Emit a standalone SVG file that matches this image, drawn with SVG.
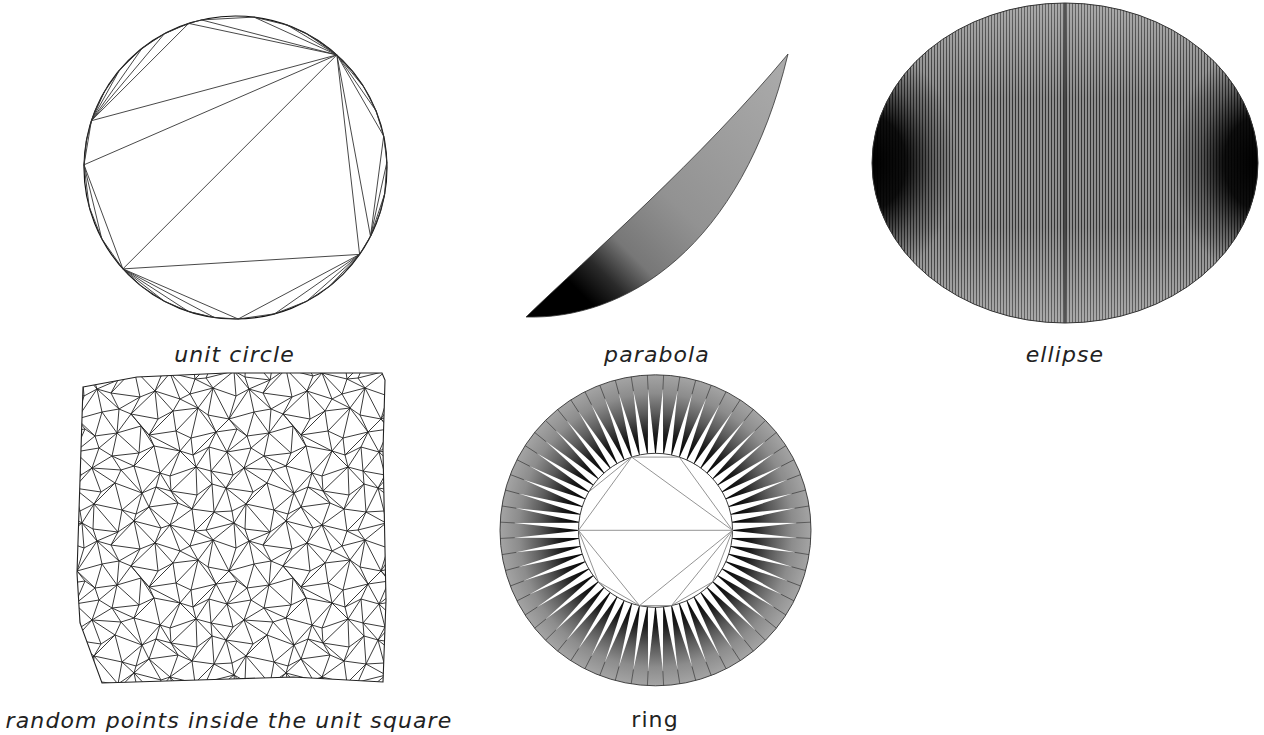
<svg xmlns="http://www.w3.org/2000/svg" xmlns:xlink="http://www.w3.org/1999/xlink" width="1264" height="735" viewBox="0 0 1264 735">
<style>
.cap{font-family:"DejaVu Sans","Liberation Sans",sans-serif;font-size:22px;fill:#222;letter-spacing:1.1px;text-anchor:middle}
.it{font-style:italic}
.edge{fill:none;stroke:#333;stroke-width:0.9}
.inner{fill:none;stroke:#888;stroke-width:0.9}
</style>
<defs>
<path id="mp" d="M3,-4L14,2 39,5 55,-6 82,1 91,-2 116,4 127,3 155,-4M5,21L18,14 32,18 61,22 76,16 101,24 111,19 134,13 157,21M-2,44L23,37 40,34 52,39 79,44 94,36 119,33 129,40 150,44M6,54L16,61 38,58 62,51 70,60 97,56 112,63 137,57 158,54M-4,77L20,73 33,81 60,78 75,71 101,76 114,80 130,72 148,77M2,100L13,93 42,95 55,91 81,98 91,101 117,92 132,96 154,100M-5,113L22,117 36,108 63,118 77,112 92,116 118,120 133,109 147,113M1,136L15,129 43,135 57,139 70,132 99,128 113,134 135,137 153,136M3,-4L5,21 -2,44 6,54 -4,77 2,100 -5,113 1,136 3,148M14,2L18,14 23,37 16,61 20,73 13,93 22,117 15,129 14,154M39,5L32,18 40,34 38,58 33,81 42,95 36,108 43,135 39,157M55,-6L61,22 52,39 62,51 60,78 55,91 63,118 57,139 55,146M82,1L76,16 79,44 70,60 75,71 81,98 77,112 70,132 82,153M91,-2L101,24 94,36 97,56 101,76 91,101 92,116 99,128 91,150M116,4L111,19 119,33 112,63 114,80 117,92 118,120 113,134 116,156M127,3L134,13 129,40 137,57 130,72 132,96 133,109 135,137 127,155M3,-4L18,14M39,5L18,14M55,-6L32,18M55,-6L76,16M91,-2L76,16M91,-2L111,19M116,4L134,13M155,-4L134,13M18,14L-2,44M18,14L40,34M61,22L40,34M76,16L52,39M76,16L94,36M101,24L119,33M134,13L119,33M134,13L150,44M-2,44L16,61M23,37L38,58M52,39L38,58M52,39L70,60M94,36L70,60M119,33L97,56M119,33L137,57M150,44L137,57M16,61L-4,77M38,58L20,73M38,58L60,78M62,51L75,71M70,60L101,76M112,63L101,76M137,57L114,80M137,57L148,77M-4,77L13,93M33,81L13,93M33,81L55,91M75,71L55,91M101,76L81,98M101,76L117,92M130,72L117,92M148,77L132,96M13,93L-5,113M13,93L36,108M42,95L63,118M81,98L63,118M81,98L92,116M117,92L92,116M117,92L133,109M132,96L147,113M-5,113L15,129M36,108L15,129M63,118L43,135M63,118L70,132M77,112L99,128M92,116L113,134M133,109L113,134M147,113L135,137M15,129L3,148M15,129L39,157M43,135L55,146M70,132L55,146M70,132L91,150M113,134L91,150M135,137L116,156M135,137L155,148"/>
<pattern id="mesh" x="79" y="375" width="152" height="152" patternUnits="userSpaceOnUse">
<g fill="none" stroke="#222" stroke-width="0.9">
<use href="#mp"/><use href="#mp" x="-152"/><use href="#mp" x="152"/>
<use href="#mp" y="-152"/><use href="#mp" x="-152" y="-152"/><use href="#mp" x="152" y="-152"/>
<use href="#mp" y="152"/><use href="#mp" x="-152" y="152"/><use href="#mp" x="152" y="152"/>
</g>
</pattern>
<pattern id="vstripe" x="0" y="0" width="3" height="10" patternUnits="userSpaceOnUse">
<rect x="0.8" y="0" width="1.4" height="10" fill="#333"/>
</pattern>
<radialGradient id="side">
<stop offset="0" stop-color="#000" stop-opacity="1"/>
<stop offset="0.4" stop-color="#000" stop-opacity="0.9"/>
<stop offset="0.7" stop-color="#000" stop-opacity="0.35"/>
<stop offset="1" stop-color="#000" stop-opacity="0"/>
</radialGradient>
<linearGradient id="vband" x1="0" y1="3" x2="0" y2="323" gradientUnits="userSpaceOnUse">
<stop offset="0" stop-color="#fff" stop-opacity="0.25"/>
<stop offset="0.3" stop-color="#fff" stop-opacity="0"/>
<stop offset="0.7" stop-color="#fff" stop-opacity="0"/>
<stop offset="1" stop-color="#fff" stop-opacity="0.25"/>
</linearGradient>
<clipPath id="ellClip"><ellipse cx="1065" cy="163" rx="193" ry="160"/></clipPath>
<linearGradient id="parG" x1="526" y1="317" x2="788" y2="54" gradientUnits="userSpaceOnUse">
<stop offset="0" stop-color="#000"/>
<stop offset="0.15" stop-color="#000"/>
<stop offset="0.23" stop-color="#2a2a2a"/>
<stop offset="0.32" stop-color="#777"/>
<stop offset="0.5" stop-color="#929292"/>
<stop offset="1" stop-color="#acacac"/>
</linearGradient>
<radialGradient id="ringG" cx="655.5" cy="530.3" r="155.5" gradientUnits="userSpaceOnUse">
<stop offset="0.495" stop-color="#000"/>
<stop offset="0.62" stop-color="#1c1c1c"/>
<stop offset="0.75" stop-color="#5a5a5a"/>
<stop offset="0.88" stop-color="#8c8c8c"/>
<stop offset="1" stop-color="#a4a4a4"/>
</radialGradient>
<g id="spk">
<polygon points="-3.63,-76.91 3.63,-76.91 0,-141" fill="#fff"/>
<line x1="0" y1="-141" x2="0" y2="-155.5" stroke="#333" stroke-width="0.6"/>
</g>
<g id="spk5">
<use href="#spk"/><use href="#spk" transform="rotate(6)"/><use href="#spk" transform="rotate(12)"/><use href="#spk" transform="rotate(18)"/><use href="#spk" transform="rotate(24)"/>
</g>
<g id="spk15">
<use href="#spk5"/><use href="#spk5" transform="rotate(30)"/><use href="#spk5" transform="rotate(60)"/>
</g>
</defs>
<rect width="1264" height="735" fill="#fff"/>

<g id="unit-circle">
<circle cx="235.5" cy="167.5" r="151.5" fill="none" stroke="#111" stroke-width="1.2"/>
<polygon class="edge" points="336.9,54.9 322.4,43.4 306.6,33.7 287.3,25.1 254.0,17.1 201.4,19.9 188.7,23.4 164.4,33.7 142.2,48.1 119.5,70.1 104.3,91.8 97.1,105.9 91.4,120.7 86.3,141.2 84.0,164.8 89.2,206.7 101.7,238.6 122.9,268.9 142.2,286.9 164.4,301.3 188.7,311.6 214.4,317.5 238.2,319.0 274.7,313.8 306.6,301.3 328.8,286.9 344.5,272.7 359.6,254.4 370.5,236.3 379.6,214.3 384.7,193.8 386.9,162.2 383.7,136.0 376.0,110.7 364.0,87.2 351.5,70.1"/>
<path class="edge" d="M336.9,54.9L91.4,120.7M336.9,54.9L84.0,164.8M336.9,54.9L122.9,268.9M336.9,54.9L359.6,254.4M122.9,268.9L359.6,254.4M122.9,268.9L238.2,319.0M238.2,319.0L359.6,254.4M91.4,120.7L84.0,164.8M84.0,164.8L122.9,268.9M84.0,164.8L101.7,238.6M336.9,54.9L306.6,33.7M336.9,54.9L287.3,25.1M336.9,54.9L254.0,17.1M336.9,54.9L201.4,19.9M336.9,54.9L188.7,23.4M91.4,120.7L188.7,23.4M91.4,120.7L164.4,33.7M91.4,120.7L142.2,48.1M91.4,120.7L119.5,70.1M91.4,120.7L104.3,91.8M336.9,54.9L370.5,236.3M336.9,54.9L383.7,136.0M336.9,54.9L376.0,110.7M336.9,54.9L364.0,87.2M370.5,236.3L383.7,136.0M370.5,236.3L386.9,162.2M370.5,236.3L384.7,193.8M122.9,268.9L164.4,301.3M122.9,268.9L188.7,311.6M122.9,268.9L214.4,317.5M359.6,254.4L274.7,313.8M359.6,254.4L306.6,301.3M359.6,254.4L328.8,286.9"/>
<text class="cap it" x="234.5" y="362">unit circle</text>
</g>

<g id="parabola">
<path d="M526,317 C590,255 700,160 788,54 C742,248 625,320 526,317 Z" fill="url(#parG)" stroke="#333" stroke-width="0.8"/>
<text class="cap it" x="657" y="362">parabola</text>
</g>

<g id="ellipse">
<ellipse cx="1065" cy="163" rx="193" ry="160" fill="#a2a2a2"/>
<g clip-path="url(#ellClip)">
<rect x="870" y="0" width="392" height="330" fill="url(#vstripe)"/>
<rect x="870" y="0" width="392" height="330" fill="url(#vband)"/>
<ellipse cx="872" cy="163" rx="85" ry="115" fill="url(#side)"/>
<ellipse cx="1258" cy="163" rx="85" ry="115" fill="url(#side)"/>
</g>
<line x1="1065" y1="3" x2="1065" y2="323" stroke="#000" stroke-width="1"/>
<ellipse cx="1065" cy="163" rx="193" ry="160" fill="none" stroke="#333" stroke-width="1"/>
<text class="cap it" x="1065" y="362">ellipse</text>
</g>

<g id="random-square">
<polygon points="83,387 137,377 227,373 382,373 385,380 383,450 386,600 383,682 293,677 230,679 102,683 80,623 77,573" fill="url(#mesh)" stroke="#222" stroke-width="1.1"/>
<text class="cap it" x="229" y="728">random points inside the unit square</text>
</g>

<g id="ring">
<circle cx="655.5" cy="530.3" r="155.5" fill="url(#ringG)" stroke="#333" stroke-width="0.9"/>
<g transform="translate(655.5,530.3) rotate(3)">
<use href="#spk15"/><use href="#spk15" transform="rotate(90)"/><use href="#spk15" transform="rotate(180)"/><use href="#spk15" transform="rotate(270)"/>
</g>
<circle cx="655.5" cy="530.3" r="77" fill="#fff" stroke="#333" stroke-width="0.9"/>
<path class="inner" d="M578.5,530.3L732.5,530.3M578.5,530.3L631.7,457.1M631.7,457.1L732.5,530.3M679.3,457.1L732.5,530.3M631.7,457.1L679.3,457.1M631.7,457.1L588.8,491.8M578.5,530.3L598.3,581.8M598.3,581.8L639.5,605.6M578.5,530.3L639.5,605.6M639.5,605.6L732.5,530.3M671.5,605.6L732.5,530.3M639.5,605.6L671.5,605.6M671.5,605.6L712.7,581.8M712.7,581.8L732.5,530.3"/>
<text class="cap" x="655" y="727">ring</text>
</g>
</svg>
